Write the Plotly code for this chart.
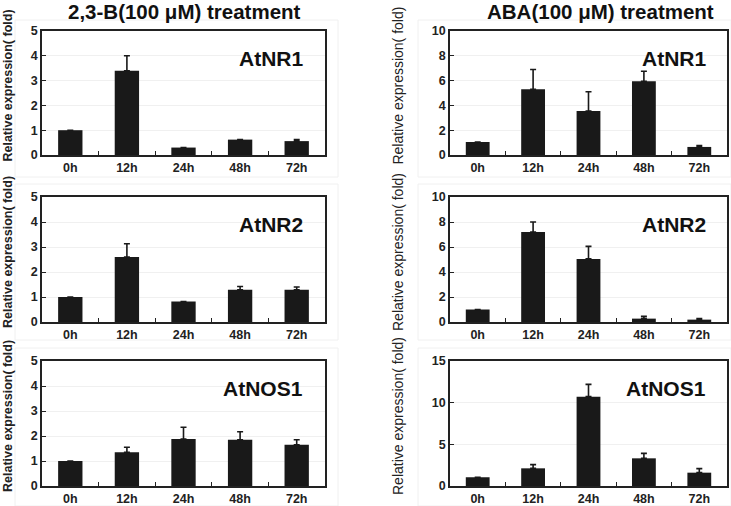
import plotly.graph_objects as go

W, H = 731, 506

times = ["0h", "12h", "24h", "48h", "72h"]

b23_nr1 = [1.0, 3.4, 0.3, 0.62, 0.56]
b23_nr1_err = [0.0, 0.6, 0.0, 0.0, 0.06]
b23_nr2 = [1.0, 2.6, 0.82, 1.29, 1.29]
b23_nr2_err = [0.0, 0.53, 0.0, 0.13, 0.11]
b23_nos1 = [1.0, 1.35, 1.88, 1.85, 1.65]
b23_nos1_err = [0.0, 0.2, 0.47, 0.32, 0.2]

aba_nr1 = [1.05, 5.3, 3.55, 5.95, 0.65]
aba_nr1_err = [0.0, 1.6, 1.55, 0.8, 0.12]
aba_nr2 = [1.0, 7.2, 5.05, 0.27, 0.19]
aba_nr2_err = [0.0, 0.8, 1.0, 0.18, 0.08]
aba_nos1 = [1.05, 2.12, 10.72, 3.32, 1.6]
aba_nos1_err = [0.0, 0.44, 1.48, 0.6, 0.48]

titles = ["2,3-B(100 μM) treatment", "ABA(100 μM) treatment"]
genes = ["AtNR1", "AtNR2", "AtNOS1"]
y_title = "Relative expression( fold)"

FONT = "Liberation Sans, Arial, sans-serif"
BAR = "#191919"

# (values, errors, y max, y step, column, row)
panels = [
    (b23_nr1, b23_nr1_err, 5, 1, 0, 0),
    (aba_nr1, aba_nr1_err, 10, 2, 1, 0),
    (b23_nr2, b23_nr2_err, 5, 1, 0, 1),
    (aba_nr2, aba_nr2_err, 10, 2, 1, 1),
    (b23_nos1, b23_nos1_err, 5, 1, 0, 2),
    (aba_nos1, aba_nos1_err, 15, 5, 1, 2),
]

# pixel boxes of plot areas
col_px = [(42, 325), (450, 727)]
row_px = [(31, 155), (197, 322), (361, 486)]


def px_x(v):
    return v / W


def px_y(v):
    return 1 - v / H


fig = go.Figure()
layout = {}
annotations = []
shapes = []

for i, (vals, errs, ymax, step, c, r) in enumerate(panels):
    n = "" if i == 0 else str(i + 1)
    fig.add_trace(
        go.Bar(
            x=times,
            y=vals,
            marker=dict(color=BAR, line=dict(width=0)),
            width=0.43,
            error_y=dict(
                type="data",
                array=errs,
                arrayminus=[0] * len(errs),
                symmetric=False,
                color=BAR,
                thickness=1.6,
                width=3,
            ),
            xaxis="x" + n,
            yaxis="y" + n,
            showlegend=False,
        )
    )
    x0, x1 = col_px[c]
    y0, y1 = row_px[r]
    layout["xaxis" + n] = dict(
        domain=[px_x(x0), px_x(x1)],
        anchor="y" + n,
        type="category",
        automargin=False,
        showline=True,
        linecolor="#222",
        linewidth=1.5,
        mirror=True,
        ticks="inside",
        tickson="boundaries",
        ticklen=4,
        tickcolor="#222",
        tickfont=dict(family=FONT, size=12.5, color="#222", weight="bold"),
        showgrid=False,
    )
    layout["yaxis" + n] = dict(
        domain=[px_y(y1), px_y(y0)],
        anchor="x" + n,
        automargin=False,
        range=[0, ymax],
        dtick=step,
        showline=True,
        linecolor="#222",
        linewidth=1.5,
        mirror=True,
        ticks="inside",
        ticklen=4,
        tickcolor="#222",
        tickfont=dict(family=FONT, size=12.5, color="#222", weight="bold"),
        showgrid=True,
        gridcolor="#f0f0f0",
        gridwidth=1,
        zeroline=False,
    )
    # gene label
    annotations.append(dict(
        text=genes[r],
        xref="x" + n + " domain", yref="y" + n + " domain",
        x=0.93, y=0.78, xanchor="right", yanchor="middle",
        showarrow=False,
        font=dict(family=FONT, size=21, color="#111", weight="bold"),
    ))
    # y axis title
    if c == 0:
        yt_font = dict(family=FONT, size=12.5, color="#222", weight="bold")
    else:
        yt_font = dict(family=FONT, size=14, color="#222")
    annotations.append(dict(
        text=y_title,
        xref="paper", yref="y" + n + " domain",
        x=px_x(8 if c == 0 else 398), y=0.56,
        xanchor="center", yanchor="middle",
        textangle=-90, showarrow=False,
        font=yt_font,
    ))

# column titles
for c, t in enumerate(titles):
    annotations.append(dict(
        text=t,
        xref="paper", yref="paper",
        x=px_x(184 if c == 0 else 600), y=px_y(12),
        xanchor="center", yanchor="middle", showarrow=False,
        font=dict(family=FONT, size=20.5, color="#111", weight="bold"),
    ))

# faint chart-area frames
frames_x = [(15, 338), (418, 731)]
frames_y = [(20, 177), (184, 340), (348, 506)]
for fx0, fx1 in frames_x:
    for fy0, fy1 in frames_y:
        shapes.append(dict(
            type="rect", xref="paper", yref="paper",
            x0=px_x(fx0), x1=px_x(fx1), y0=px_y(fy1), y1=px_y(fy0),
            line=dict(color="#f0f0f0", width=1), layer="below",
        ))

fig.update_layout(
    width=W,
    height=H,
    margin=dict(l=0, r=0, t=0, b=0),
    paper_bgcolor="white",
    plot_bgcolor="white",
    annotations=annotations,
    shapes=shapes,
    bargap=0.57,
    **layout,
)

# page body has a default margin; drop it so the figure fills the window
fig.write_html(
    "out.html",
    config={"displayModeBar": False},
    post_script="document.body.style.margin='0px';",
)
